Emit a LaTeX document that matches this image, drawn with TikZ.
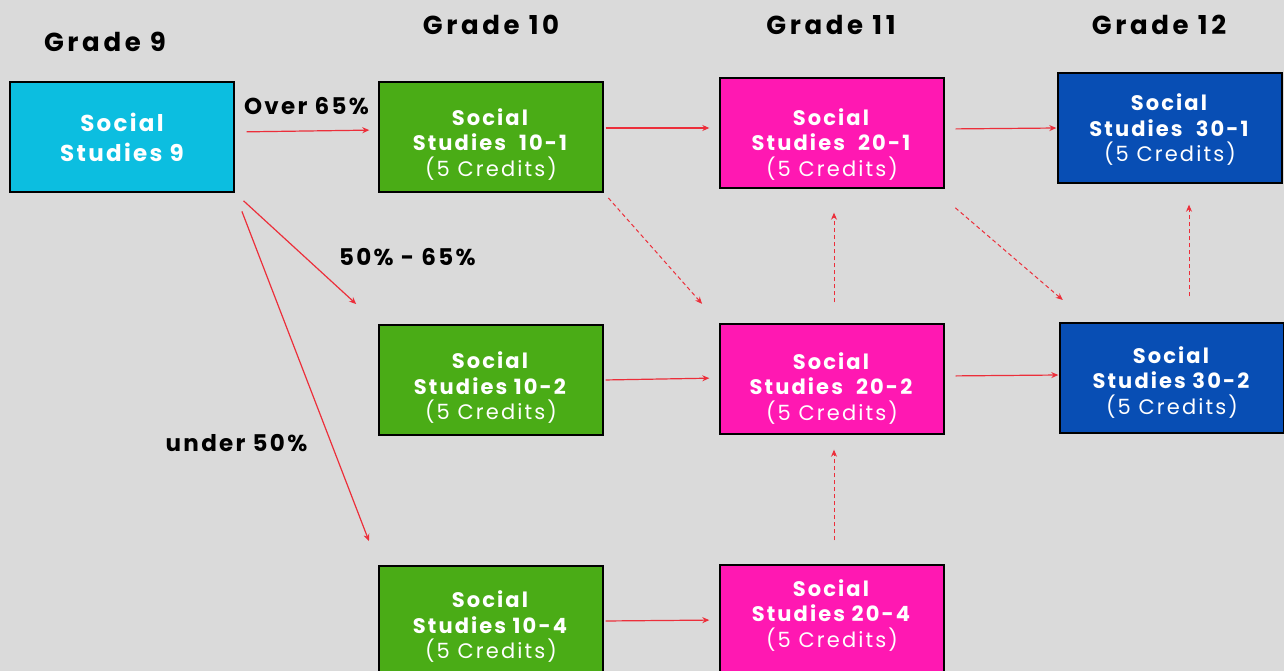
\documentclass[tikz,border=0pt]{standalone}
\usepackage{fontspec}
\setmainfont{Poppins}[LetterSpace=10]
\usetikzlibrary{arrows.meta,positioning}

\definecolor{bggray}{RGB}{218,218,218}
\definecolor{sscyan}{RGB}{12,190,224}
\definecolor{ssgreen}{RGB}{74,172,22}
\definecolor{sspink}{RGB}{255,24,178}
\definecolor{ssblue}{RGB}{8,78,180}
\definecolor{linkred}{RGB}{236,46,58}

\begin{document}
\begin{tikzpicture}[x=1pt, y=-1pt,
  course/.style={rectangle, draw=black, line width=1.4pt, minimum width=224pt,
    minimum height=110pt, text=white, align=center,
    font=\fontsize{21}{25.5}\selectfont},
  drop/.style={execute at begin node={\rule{0pt}{#1}}},
  lift/.style={execute at end node={\rule[-#1]{0pt}{#1}}},
  grade/.style={font=\fontsize{26}{30}\selectfont\bfseries\addfontfeature{LetterSpace=14}, text=black},
  mark label/.style={font=\fontsize{23}{26}\selectfont\bfseries, text=black},
  link/.style={draw=linkred, line width=1.2pt, -{Stealth[length=7pt, width=6pt]}},
  maybe/.style={link, line width=1pt, dash pattern=on 4pt off 3pt}]

\fill[bggray] (0,0) rectangle (1284,671);
\useasboundingbox (0,0) rectangle (1284,671);

\draw
(105,42) node[grade](g9){Grade 9}
(491,25) node[grade](g10){Grade 10}
(831,25) node[grade](g11){Grade 11}
(1159,25) node[grade](g12){Grade 12}
(122,137) node[course, fill=sscyan, font=\fontsize{23}{30}\selectfont\bfseries](ss9){Social\\Studies 9}
(491,137) node[course, fill=ssgreen, drop=82.5pt](ss101){\textbf{Social}\\\textbf{Studies\ \ 10-1}\\(5 Credits)}
(491,380) node[course, fill=ssgreen, drop=83.5pt](ss102){\textbf{Social}\\\textbf{Studies 10-2}\\(5 Credits)}
(491,621) node[course, fill=ssgreen, drop=79.5pt](ss104){\textbf{Social}\\\textbf{Studies 10-4}\\(5 Credits)}
(832,133) node[course, fill=sspink, drop=90.5pt](ss201){\textbf{Social}\\\textbf{Studies\ \ 20-1}\\(5 Credits)}
(832,379) node[course, fill=sspink, drop=86.5pt](ss202){\textbf{Social}\\\textbf{Studies\ \ 20-2}\\(5 Credits)}
(832,620) node[course, fill=sspink, lift=13pt](ss204){\textbf{Social}\\\textbf{Studies 20-4}\\(5 Credits)}
(1170,128) node[course, fill=ssblue, drop=71.5pt](ss301){\textbf{Social}\\\textbf{Studies\ \ 30-1}\\(5 Credits)}
(1172,378) node[course, fill=ssblue, drop=76.5pt](ss302){\textbf{Social}\\\textbf{Studies 30-2}\\(5 Credits)};

% from grade 9
\draw[link, shorten <=12pt, shorten >=9pt] ([yshift=5pt]ss9.east) -- node[mark label, above=12pt]{Over 65\%} ([yshift=7pt]ss101.west);
\draw[link, shorten <=12pt, shorten >=30pt] (ss9.south east) -- node[mark label, pos=0.7, above right=15pt and 0pt]{50\% - 65\%} (ss102.north west);
\draw[link, shorten <=20pt, shorten >=26pt] (ss9.south east) -- node[mark label, pos=0.672, left=20pt]{under 50\%} (ss104.north west);

% grade 10 to 11
\draw[link, shorten <=2pt, shorten >=10pt] ([yshift=9pt]ss101.east) -- ([yshift=5pt]ss201.west);
\draw[link, shorten <=2pt, shorten >=10pt] (ss102.east) -- ([yshift=1pt]ss202.west);
\draw[link, shorten <=2pt, shorten >=10pt] (ss104.east) -- (ss204.west);
\draw[maybe, shorten <=7pt, shorten >=26pt] (ss101.south east) -- (ss202.north west);

% within grade 11
\draw[maybe, shorten <=21pt, shorten >=24pt] ([xshift=2pt]ss202.north) -- ([xshift=2pt]ss201.south);
\draw[maybe, shorten <=24pt, shorten >=15pt] ([xshift=2pt]ss204.north) -- ([xshift=2pt]ss202.south);

% grade 11 to 12
\draw[link, shorten <=11pt, shorten >=1pt] ([yshift=4pt]ss201.east) -- (ss301.west);
\draw[link, shorten <=11pt, shorten >=1pt] ([yshift=3pt]ss202.east) -- ([yshift=3pt]ss302.west);
\draw[maybe, shorten <=14pt, shorten >=2pt] ([shift={(0,10)}]ss201.south east) -- ([shift={(5,-21)}]ss302.north west);
\draw[maybe, shorten <=26pt, shorten >=21pt] ([xshift=17pt]ss302.north) -- ([xshift=19pt]ss301.south);

\end{tikzpicture}
\end{document}
